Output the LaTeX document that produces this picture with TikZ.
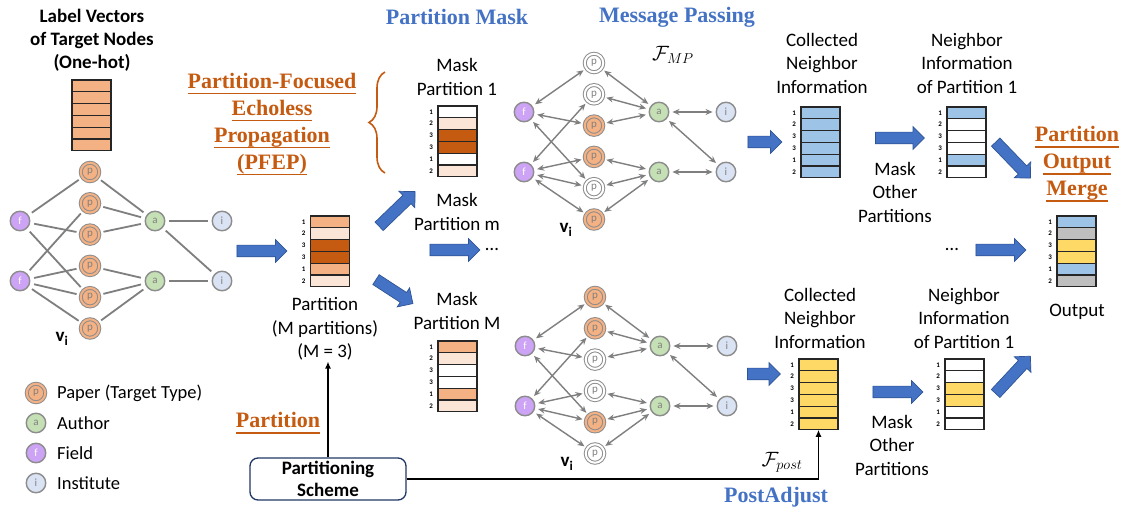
\documentclass[tikz,border=0pt]{standalone}
\usepackage{fontspec}
\setmainfont{Carlito}
\newfontfamily\headfont{Liberation Serif}
\usetikzlibrary{positioning, shapes.arrows, arrows.meta, decorations.pathreplacing}

\definecolor{orangemid}{HTML}{F4B183}
\definecolor{orangelight}{HTML}{FBE5D6}
\definecolor{orangedark}{HTML}{C55A11}
\definecolor{bluecell}{HTML}{9DC3E6}
\definecolor{yellowcell}{HTML}{FFD966}
\definecolor{graycell}{HTML}{BFBFBF}
\definecolor{arrowblue}{HTML}{4472C4}
\definecolor{arrowedge}{HTML}{2F5597}
\definecolor{titleorange}{HTML}{C55A11}
\definecolor{titleblue}{HTML}{4472C4}
\definecolor{fieldpurple}{HTML}{CCA3F5}
\definecolor{authorgreen}{HTML}{C5E0B4}
\definecolor{instblue}{HTML}{DAE3F3}
\definecolor{nodegray}{HTML}{8C8C8C}
\definecolor{edgegray}{HTML}{7F7F7F}
\definecolor{navy}{HTML}{1F3864}

% underline that sits at the descender line
\newcommand{\ulword}[1]{\leavevmode\setbox0=\hbox{#1}\rlap{\copy0}\raisebox{-5.8pt}{\rule{\wd0}{1.2pt}}}

\tikzset{
  sanstext/.style={align=center, font=\fontsize{19}{23.5}\selectfont, inner sep=1pt},
  boldtext/.style={align=center, font=\fontsize{19}{23}\selectfont\bfseries, inner sep=1pt},
  keytext/.style={font=\fontsize{18.5}{22}\selectfont, inner sep=1pt},
  orangetitle/.style={align=center, text=titleorange, font=\fontsize{22}{27}\selectfont\headfont\bfseries, inner sep=1pt},
  bluetitle/.style={text=titleblue, font=\fontsize{22}{26}\selectfont\headfont\bfseries, inner sep=1pt},
  mathtext/.style={font=\fontsize{21}{24}\selectfont, inner sep=1pt},
  vcell/.style={rectangle, draw=black!85, line width=1.2pt, minimum width=39pt, minimum height=11.8pt, inner sep=0pt, outer sep=0pt},
  vnum/.style={font=\fontsize{7}{8}\selectfont\bfseries, inner sep=0pt},
  gnode/.style={circle, draw=nodegray, line width=1.4pt, minimum size=19.5pt, inner sep=0pt, text=gray, font=\fontsize{11}{11}\selectfont},
  pnode/.style={gnode, line width=1pt, double distance=2pt, minimum size=18.5pt},
  fnode/.style={gnode, fill=fieldpurple, text=white},
  anode/.style={gnode, fill=authorgreen},
  inode/.style={gnode, fill=instblue},
  vilabel/.style={font=\fontsize{19}{22}\selectfont\bfseries, inner sep=0pt},
  plainedge/.style={draw=edgegray, line width=1.8pt, shorten <=4pt, shorten >=4pt},
  mpedge/.style={draw=edgegray, line width=1.4pt, shorten <=3pt, shorten >=3pt, arrows={Stealth[length=7pt,width=6pt]-Stealth[length=7pt,width=6pt]}},
  bararrow/.style={single arrow, draw=arrowedge, fill=arrowblue, line width=0.7pt, inner xsep=0pt, inner ysep=5.5pt, single arrow head extend=5.5pt, single arrow head indent=0pt, outer sep=0pt},
  thinarrow/.style={draw=black, line width=1.2pt, arrows={-Latex[length=7pt,width=6pt]}},
  schemebox/.style={draw=navy, line width=1.3pt, rounded corners=8pt, fill=white, minimum width=156pt, minimum height=42pt, align=center, font=\fontsize{19}{22}\selectfont\bfseries, inner sep=1pt},
  brace/.style={decorate, decoration={brace, amplitude=16pt}, draw=titleorange, line width=1.6pt},
}

% a column of six cells, named #1 1..#1 6
\newcommand{\cellvec}[4]{%
  \foreach \c [count=\k] in {#4}
    \node[vcell, fill=\c] (#1\k) at (#2,{#3+(\k-0.5)*11.8}) {};
}
% partition ids beside a column
\newcommand{\cellnums}[1]{%
  \foreach \n [count=\k] in {1,2,3,3,1,2}
    \node[vnum, left=5pt of #1\k] (#1num\k) {\n};
}
% heterogeneous graph: prefix, origin, paper fills, edge style
\newcommand{\hetgraph}[4]{%
  \begin{scope}[shift={#2}, name prefix=#1-]
    \node[fnode] (f1) at (0,49) {f};
    \node[fnode] (f2) at (0,109) {f};
    \foreach \c [count=\k] in {#3}
      \node[pnode, fill=\c, double=\c] (p\k) at (70,{(\k-1)*31.3}) {p};
    \node[anode] (a1) at (135,49) {a};
    \node[anode] (a2) at (135,109) {a};
    \node[inode] (i1) at (202,49) {i};
    \node[inode] (i2) at (202,109) {i};
    \node[vilabel] (vi) at (42,167) {v\textsubscript{i}};
    \foreach \u/\v in {f1/p1,f1/p3,f1/p5,f2/p2,f2/p4,f2/p5,f2/p6,p1/a1,p2/a1,p3/a1,p4/a2,p5/a2,p6/a2,a1/i1,a1/i2,a2/i2}
      \draw[#4] (\u) -- (\v);
  \end{scope}
}

\begin{document}
\begin{tikzpicture}[x=1pt, y=-1pt]
\useasboundingbox[fill=white] (0,0) rectangle (1122,510);

% input graph and its one-hot labels
\node[boldtext] (onehottitle) at (92,40) {Label Vectors\\of Target Nodes\\(One-hot)};
\cellvec{oh}{91.5}{80}{orangemid,orangemid,orangemid,orangemid,orangemid,orangemid}
\hetgraph{hg}{(20,172)}{orangemid,orangemid,orangemid,orangemid,orangemid,orangemid}{plainedge}

% legend
\node[pnode, fill=orangemid, double=orangemid] (keyp) at (36,393) {p};
\node[anode] (keya) at (36,423) {a};
\node[fnode] (keyf) at (36,453) {f};
\node[inode] (keyi) at (36,483) {i};
\node[keytext, anchor=west] (keyptext) at (56,393) {Paper (Target Type)};
\node[keytext, anchor=west] (keyatext) at (56,423) {Author};
\node[keytext, anchor=west] (keyftext) at (56,453) {Field};
\node[keytext, anchor=west] (keyitext) at (56,483) {Institute};

% partition step
\node[bararrow, minimum height=50pt] (toPart) at (259,251) {};
\cellvec{pv}{330}{216}{orangemid,orangelight,orangedark,orangedark,orangemid,orangelight}
\cellnums{pv}
\node[sanstext] (parttext) at (325,329) {Partition\\(M partitions)\\(M = 3)};
\node[orangetitle] (pfep) at (272,124) {\ulword{Partition-Focused}\\\ulword{Echoless}\\\ulword{Propagation}\\\ulword{(PFEP)}};
\draw[brace] (385,173) -- (385,72);

\node[orangetitle] (partlabel) at (278,423) {\ulword{Partition}};
\node[schemebox] (scheme) at (328,479) {Partitioning\\Scheme};
\draw[thinarrow] (scheme.north) -- (scheme.north |- parttext.south);

% partition masks
\node[bluetitle] (masktitle) at (457,17) {Partition Mask};
\node[bararrow, minimum height=50pt, rotate=44] (toMaskA) at (395,211) {};
\node[bararrow, minimum height=50pt] (toMaskm) at (452,250) {};
\node[bararrow, minimum height=44pt, rotate=-33] (toMaskB) at (392,290) {};
\node[sanstext] (maskAtext) at (457,77) {Mask\\Partition 1};
\cellvec{mskA}{457.5}{106}{white,orangelight,orangedark,orangedark,white,orangelight}
\cellnums{mskA}
\node[sanstext] (maskmtext) at (457,212) {Mask\\Partition m};
\node[sanstext] (dotsA) at (492,250) {…};
\node[sanstext] (maskBtext) at (457,311) {Mask\\Partition M};
\cellvec{mskB}{457.5}{341}{orangemid,orangelight,white,white,orangemid,orangelight}
\cellnums{mskB}

% message passing
\node[bluetitle] (mptitle) at (677,17) {Message Passing};
\node[mathtext] (fmp) at (673,55) {$\mathcal{F}_{MP}$};
\hetgraph{mpA}{(524,63)}{white,white,orangemid,orangemid,white,orangemid}{mpedge}
\hetgraph{mpB}{(525,297)}{orangemid,orangemid,white,white,orangemid,white}{mpedge}

% collected information, partition 1
\node[bararrow, minimum height=34pt] (toCollA) at (762,142) {};
\node[sanstext] (collAtext) at (822,63) {Collected\\Neighbor\\Information};
\cellvec{cnA}{820.5}{107}{bluecell,bluecell,bluecell,bluecell,bluecell,bluecell}
\cellnums{cnA}
\node[bararrow, minimum height=49pt] (toNbrA) at (897,138) {};
\node[sanstext] (otherA) at (895,192) {Mask\\Other\\Partitions};
\node[sanstext] (nbrAtext) at (967,63) {Neighbor\\Information\\of Partition 1};
\cellvec{npA}{966.5}{107}{bluecell,white,white,white,bluecell,white}
\cellnums{npA}
\node[bararrow, minimum height=50pt, rotate=-46] (toOutA) at (1011,158) {};

% collected information, partition M
\node[bararrow, minimum height=33pt] (toCollB) at (761,374) {};
\node[sanstext] (collBtext) at (820,318) {Collected\\Neighbor\\Information};
\cellvec{cnB}{818.5}{359}{yellowcell,yellowcell,yellowcell,yellowcell,yellowcell,yellowcell}
\cellnums{cnB}
\node[bararrow, minimum height=50pt] (toNbrB) at (895,392) {};
\node[sanstext] (otherB) at (892,445) {Mask\\Other\\Partitions};
\node[sanstext] (nbrBtext) at (964,318) {Neighbor\\Information\\of Partition 1};
\cellvec{npB}{964.5}{359}{white,white,yellowcell,yellowcell,white,white}
\cellnums{npB}
\node[bararrow, minimum height=51pt, rotate=47] (toOutB) at (1011,377) {};

\draw[thinarrow] (scheme.east) -| (cnB6.south);
\node[mathtext] (fpost) at (782,462) {$\mathcal{F}_{post}$};
\node[bluetitle] (posttitle) at (776,497) {PostAdjust};

% merged output
\node[orangetitle] (mergetitle) at (1077,164) {\ulword{Partition}\\\ulword{Output}\\\ulword{Merge}};
\node[sanstext] (dotsB) at (952,250) {…};
\node[bararrow, minimum height=50pt] (toOutm) at (998,250) {};
\cellvec{outv}{1076.5}{216}{bluecell,graycell,yellowcell,yellowcell,bluecell,graycell}
\cellnums{outv}
\node[sanstext] (outtext) at (1077,312) {Output};
\end{tikzpicture}
\end{document}
